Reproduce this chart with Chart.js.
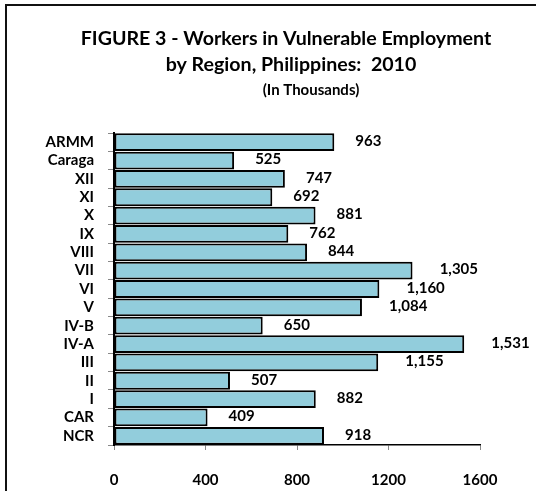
<!DOCTYPE html>
<html lang="en">
<head>
  <meta charset="UTF-8">
  <title>Figure 3</title>
  <script src="https://cdn.jsdelivr.net/npm/chart.js"></script>
  <style>
    html, body { margin: 0; padding: 0; background: #fff; overflow: hidden; }
    #wrap { width: 536px; height: 491px; }
  </style>
</head>
<body>
<div id="wrap"><canvas id="myChart" width="536" height="491"></canvas></div>

<script>
  // dados (de cima para baixo)
  const regioes = ['ARMM', 'Caraga', 'XII', 'XI', 'X', 'IX', 'VIII', 'VII', 'VI', 'V',
                   'IV-B', 'IV-A', 'III', 'II', 'I', 'CAR', 'NCR'];
  const trabalhadores = [963, 525, 747, 692, 881, 762, 844, 1305, 1160, 1084,
                         650, 1531, 1155, 507, 882, 409, 918];
  const ticksX = [0, 400, 800, 1200, 1600];
  const titulo = ['FIGURE 3 - Workers in Vulnerable Employment', 'by Region, Philippines:  2010'];
  const subtitulo = '(In Thousands)';

  const fonte = 'Lato, "Open Sans", sans-serif';

  // moldura + título
  const moldura = {
    id: 'moldura',
    beforeDraw(chart) {
      const c = chart.ctx;
      c.save();
      c.strokeStyle = '#111';
      c.lineWidth = 2;
      c.beginPath();
      c.moveTo(6, 600);
      c.lineTo(6, 5);
      c.lineTo(600, 5);
      c.stroke();

      c.fillStyle = '#000';
      c.textAlign = 'center';
      c.textBaseline = 'middle';
      c.font = 'bold 19.6px ' + fonte;
      c.fillText(titulo[0], 286, 39);
      c.fillText(titulo[1], 291, 65);
      c.font = 'bold 15px ' + fonte;
      c.fillText(subtitulo, 311, 90);
      c.restore();
    }
  };

  // rótulos dos valores
  const rotulos = {
    id: 'rotulos',
    afterDatasetsDraw(chart) {
      const c = chart.ctx;
      const meta = chart.getDatasetMeta(0);
      c.save();
      c.font = 'bold 15px ' + fonte;
      c.fillStyle = '#000';
      c.textAlign = 'left';
      c.textBaseline = 'middle';
      meta.data.forEach(function (bar, i) {
        const txt = trabalhadores[i].toLocaleString('en-US');
        const w = c.measureText(txt).width;
        c.fillText(txt, bar.x + 8 + w / 2, bar.y - 1);
      });
      c.restore();
    }
  };

  const ctx = document.getElementById('myChart');

  new Chart(ctx, {
    type: 'bar',
    data: {
      labels: regioes,
      datasets: [{
        data: trabalhadores,
        backgroundColor: '#92CDDC',
        borderColor: '#000',
        borderWidth: 2,
        borderSkipped: false,
        barPercentage: 0.97,
        categoryPercentage: 1
      }]
    },
    options: {
      indexAxis: 'y',
      responsive: false,
      animation: false,
      layout: { padding: { top: 133, right: 56, bottom: 0, left: 0 } },
      plugins: {
        legend: { display: false },
        tooltip: { enabled: false }
      },
      scales: {
        x: {
          min: 0,
          max: 1600,
          afterBuildTicks(scale) { scale.ticks = ticksX.map(v => ({ value: v })); },
          afterFit(scale) { scale.height = 46; },
          ticks: {
            color: '#000',
            font: { family: fonte, size: 15, weight: 'bold' },
            padding: 21,
            callback: v => String(v)
          },
          grid: { drawOnChartArea: false, tickLength: 5, color: '#888' },
          border: { color: '#000', width: 1.5 }
        },
        y: {
          afterFit(scale) { scale.width = 114; },
          ticks: {
            color: '#000',
            font: { family: fonte, size: 15, weight: 'bold' },
            padding: 14,
            autoSkip: false
          },
          grid: { drawOnChartArea: false, offset: true, tickLength: 6, color: '#888' },
          border: { color: '#000', width: 2 }
        }
      }
    },
    plugins: [moldura, rotulos]
  });
</script>
</body>
</html>
